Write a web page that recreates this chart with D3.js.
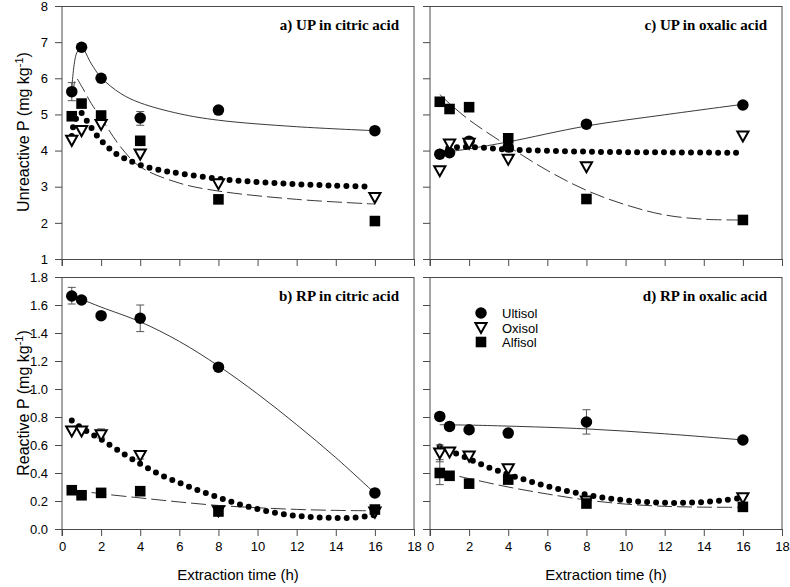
<!DOCTYPE html>
<html><head><meta charset="utf-8">
<script src="https://cdn.jsdelivr.net/npm/d3@7"></script>
<style>
html,body{margin:0;padding:0;background:#fff;}
svg{display:block;}
text{font-family:"Liberation Sans",Arial,sans-serif;}
.title{font-family:"Liberation Serif","Times New Roman",serif;font-weight:bold;font-size:15px;}
</style></head>
<body><svg id="chart" width="790" height="587"></svg>
<script>
// ---------- data ----------
const times = [0.5, 1, 2, 4, 8, 16];
const xTicks = [0, 2, 4, 6, 8, 10, 12, 14, 16, 18];
const yTicksUP = [1, 2, 3, 4, 5, 6, 7, 8];
const yTicksRP = [0.0, 0.2, 0.4, 0.6, 0.8, 1.0, 1.2, 1.4, 1.6, 1.8];
const soils = ["Ultisol", "Oxisol", "Alfisol"];
const titles = ["a) UP in citric acid", "b) RP in citric acid", "c) UP in oxalic acid", "d) RP in oxalic acid"];

// a) UP in citric acid
const ultisolA = [5.63, 6.86, 6.0, 4.9, 5.12, 4.55];
const oxisolA  = [4.28, 4.55, 4.72, 3.9, 3.08, 2.7];
const alfisolA = [4.95, 5.3, 4.97, 4.27, 2.65, 2.05];
const fitUltisolA = [[0.5,5.7],[0.75,6.7],[1,6.85],[1.5,6.4],[2,6.02],[3,5.58],[4,5.32],[6,5.02],[8,4.84],[12,4.66],[16,4.55]];
const fitOxisolA  = [[0.5,4.4],[0.6,4.72],[0.95,5.05],[1.3,4.8],[1.6,4.55],[2,4.28],[2.4,4.07],[2.8,3.9],[3.3,3.76],[4,3.6],[5,3.46],[6,3.37],[8,3.22],[10,3.13],[12,3.07],[14,3.03],[15.7,3.0]];
const fitAlfisolA = [[0.55,5.5],[0.72,6.0],[1,5.78],[1.5,5.3],[2,4.9],[3,4.1],[4,3.55],[6,3.1],[8,2.88],[12,2.65],[16,2.52]];
const errA = [[0, 0.5, 5.38, 5.88], [0, 4, 4.7, 5.08]];

// b) RP in citric acid
const ultisolB = [1.664, 1.636, 1.524, 1.505, 1.156, 0.258];
const oxisolB  = [0.70, 0.70, 0.673, 0.524, 0.13, 0.12];
const alfisolB = [0.277, 0.241, 0.258, 0.27, 0.125, 0.139];
const fitUltisolB = [[0.5,1.665],[1,1.64],[2,1.585],[4,1.48],[6,1.34],[8,1.165],[10,0.965],[12,0.745],[14,0.51],[16,0.255]];
const fitOxisolB  = [[0.5,0.775],[1,0.72],[1.5,0.68],[2,0.64],[3,0.55],[4,0.465],[5,0.39],[6,0.33],[7,0.275],[8,0.225],[9,0.18],[10,0.142],[11,0.113],[12,0.094],[13,0.083],[14,0.079],[15,0.082],[16,0.1]];
const fitAlfisolB = [[0.5,0.28],[2,0.252],[4,0.222],[6,0.193],[8,0.168],[10,0.152],[12,0.14],[14,0.133],[16,0.13]];
const errB = [[0, 0.5, 1.607, 1.726], [0, 4, 1.41, 1.6], [1, 2, 0.65, 0.715], [1, 4, 0.5, 0.55]];

// c) UP in oxalic acid
const ultisolC = [3.9, 3.94, 4.26, 4.1, 4.73, 5.26];
const oxisolC  = [3.44, 4.18, 4.2, 3.76, 3.55, 4.4];
const alfisolC = [5.35, 5.15, 5.2, 4.34, 2.66, 2.08];
const fitUltisolC = [[0.5,3.93],[2,4.05],[4,4.24],[8,4.68],[12,4.99],[16,5.28]];
const fitOxisolC  = [[0.5,3.97],[1,4.07],[2,4.1],[4,4.03],[8,3.97],[12,3.95],[15.8,3.94]];
const fitAlfisolC = [[0.5,5.55],[1,5.3],[2,4.85],[4,4.12],[6,3.45],[8,2.9],[10,2.5],[12,2.22],[14,2.1],[16,2.08]];
const errC = [];

// d) RP in oxalic acid
const ultisolD = [0.804, 0.733, 0.709, 0.685, 0.764, 0.636];
const oxisolD  = [0.543, 0.55, 0.52, 0.43, 0.2, 0.222];
const alfisolD = [0.4, 0.38, 0.324, 0.353, 0.182, 0.158];
const fitUltisolD = [[0.5,0.745],[2,0.742],[4,0.735],[8,0.715],[12,0.68],[16,0.636]];
const fitOxisolD  = [[0.5,0.59],[1,0.56],[2,0.5],[3,0.44],[4,0.39],[5,0.345],[6,0.305],[7,0.272],[8,0.245],[9,0.222],[10,0.205],[11,0.193],[12,0.187],[13,0.187],[14,0.193],[15,0.205],[16,0.225]];
const fitAlfisolD = [[0.5,0.4],[1,0.39],[2,0.36],[4,0.3],[6,0.25],[8,0.207],[10,0.178],[12,0.162],[14,0.156],[16,0.155]];
const errD = [[0, 1, 0.71, 0.76], [0, 8, 0.678, 0.852], [1, 0.5, 0.48, 0.6], [2, 0.5, 0.317, 0.495], [2, 1, 0.35, 0.41]];

// ---------- layout ----------
const svg = d3.select("#chart");
const cols = [[62, 414], [430, 782]];
const rows = [[6, 259], [277, 529]];

const panels = [
  {col:0,row:0,title:titles[0],yd:[1,8],yt:yTicksUP,fmt:d3.format("d"),pts:[ultisolA,oxisolA,alfisolA],fits:[fitUltisolA,fitOxisolA,fitAlfisolA],err:errA},
  {col:0,row:1,title:titles[1],yd:[0,1.8],yt:yTicksRP,fmt:d3.format(".1f"),pts:[ultisolB,oxisolB,alfisolB],fits:[fitUltisolB,fitOxisolB,fitAlfisolB],err:errB},
  {col:1,row:0,title:titles[2],yd:[1,8],yt:yTicksUP,fmt:d3.format("d"),pts:[ultisolC,oxisolC,alfisolC],fits:[fitUltisolC,fitOxisolC,fitAlfisolC],err:errC},
  {col:1,row:1,title:titles[3],yd:[0,1.8],yt:yTicksRP,fmt:d3.format(".1f"),pts:[ultisolD,oxisolD,alfisolD],fits:[fitUltisolD,fitOxisolD,fitAlfisolD],err:errD}
];

const lineCol = "#4a4a4a";
const triPath = "M-5.6,-4.6L5.6,-4.6L0,5.4Z";
const circSym = d3.symbol().type(d3.symbolCircle).size(104);
const sqSym = d3.symbol().type(d3.symbolSquare).size(112);

function drawMarker(g, k, x, y) {
  if (k === 0) g.append("path").attr("d", circSym()).attr("transform", `translate(${x},${y})`).attr("fill", "#000");
  else if (k === 1) g.append("path").attr("d", triPath).attr("transform", `translate(${x},${y})`).attr("fill", "#fff").attr("stroke", "#000").attr("stroke-width", 2);
  else g.append("path").attr("d", sqSym()).attr("transform", `translate(${x},${y})`).attr("fill", "#000");
}

panels.forEach(p => {
  const [x0, x1] = cols[p.col];
  const [y0, y1] = rows[p.row];
  const x = d3.scaleLinear().domain([0, 18]).range([x0, x1]);
  const y = d3.scaleLinear().domain(p.yd).range([y1, y0]);
  const g = svg.append("g");

  // frame
  g.append("line").attr("x1", x0).attr("x2", x1).attr("y1", y0 + 0.5).attr("y2", y0 + 0.5).attr("stroke", lineCol);
  g.append("line").attr("x1", x1).attr("x2", x1).attr("y1", y0).attr("y2", y1).attr("stroke", lineCol);

  // axes
  const xa = d3.axisBottom(x).tickValues(xTicks).tickSize(7).tickPadding(6);
  if (p.row === 0) xa.tickFormat("");
  const gx = g.append("g").attr("transform", `translate(0,${y1})`).call(xa);
  const ya = d3.axisLeft(y).tickValues(p.yt).tickSize(7).tickPadding(7).tickFormat(p.fmt);
  if (p.col === 1) ya.tickFormat("");
  const gy = g.append("g").attr("transform", `translate(${x0},0)`).call(ya);
  [gx, gy].forEach(a => {
    a.select(".domain").attr("stroke", lineCol).attr("d", null);
    a.selectAll(".tick line").attr("stroke", lineCol);
    a.selectAll(".tick text").attr("fill", "#000").style("font-size", "13px").style("font-family", '"Liberation Sans",Arial,sans-serif');
  });
  gx.select(".domain").remove();
  gy.select(".domain").remove();
  g.append("line").attr("x1", x0).attr("x2", x1).attr("y1", y1 + 0.5).attr("y2", y1 + 0.5).attr("stroke", lineCol);
  g.append("line").attr("x1", x0).attr("x2", x0).attr("y1", y0).attr("y2", y1 + 7).attr("stroke", lineCol);

  // title
  g.append("text").attr("class", "title").attr("x", x1 - 15).attr("y", y0 + 24).attr("text-anchor", "end").text(p.title);

  // fit lines
  const line = d3.line().x(d => x(d[0])).y(d => y(d[1])).curve(d3.curveCatmullRom.alpha(0.5));
  g.append("path").attr("d", line(p.fits[0])).attr("fill", "none").attr("stroke", "#222").attr("stroke-width", 0.9);
  g.append("path").attr("d", line(p.fits[2])).attr("fill", "none").attr("stroke", "#222").attr("stroke-width", 0.9).attr("stroke-dasharray", "15,5");
  g.append("path").attr("d", line(p.fits[1])).attr("fill", "none").attr("stroke", "#000").attr("stroke-width", 6)
    .attr("stroke-linecap", "round").attr("stroke-dasharray", "0,9");

  // error bars
  p.err.forEach(e => {
    const ex = x(e[1]);
    g.append("line").attr("x1", ex).attr("x2", ex).attr("y1", y(e[2])).attr("y2", y(e[3])).attr("stroke", "#555");
    [e[2], e[3]].forEach(v => g.append("line").attr("x1", ex - 4).attr("x2", ex + 4).attr("y1", y(v)).attr("y2", y(v)).attr("stroke", "#555"));
  });

  // markers
  [0, 1, 2].forEach(k => {
    p.pts[k].forEach((v, i) => drawMarker(g, k, x(times[i]), y(v)));
  });
});

// legend in panel d
const lg = svg.append("g").attr("transform", "translate(481,313)");
soils.forEach((s, k) => {
  drawMarker(lg, k, 0, k * 14.5);
  lg.append("text").attr("x", 21).attr("y", k * 14.5 + 5).style("font-size", "13px").text(s);
});

// axis titles
function yLabel(txt, cy) {
  const t = svg.append("text").attr("transform", `translate(29,${cy}) rotate(-90)`).attr("text-anchor", "middle").style("font-size", "16px");
  t.append("tspan").text(txt + " (mg kg");
  t.append("tspan").attr("dy", -6).style("font-size", "11px").text("-1");
  t.append("tspan").attr("dy", 6).text(")");
}
yLabel("Unreactive P", 132);
yLabel("Reactive P", 403);
cols.forEach(c => {
  svg.append("text").attr("x", (c[0] + c[1]) / 2).attr("y", 580).attr("text-anchor", "middle").style("font-size", "15px").text("Extraction time (h)");
});
</script></body></html>
